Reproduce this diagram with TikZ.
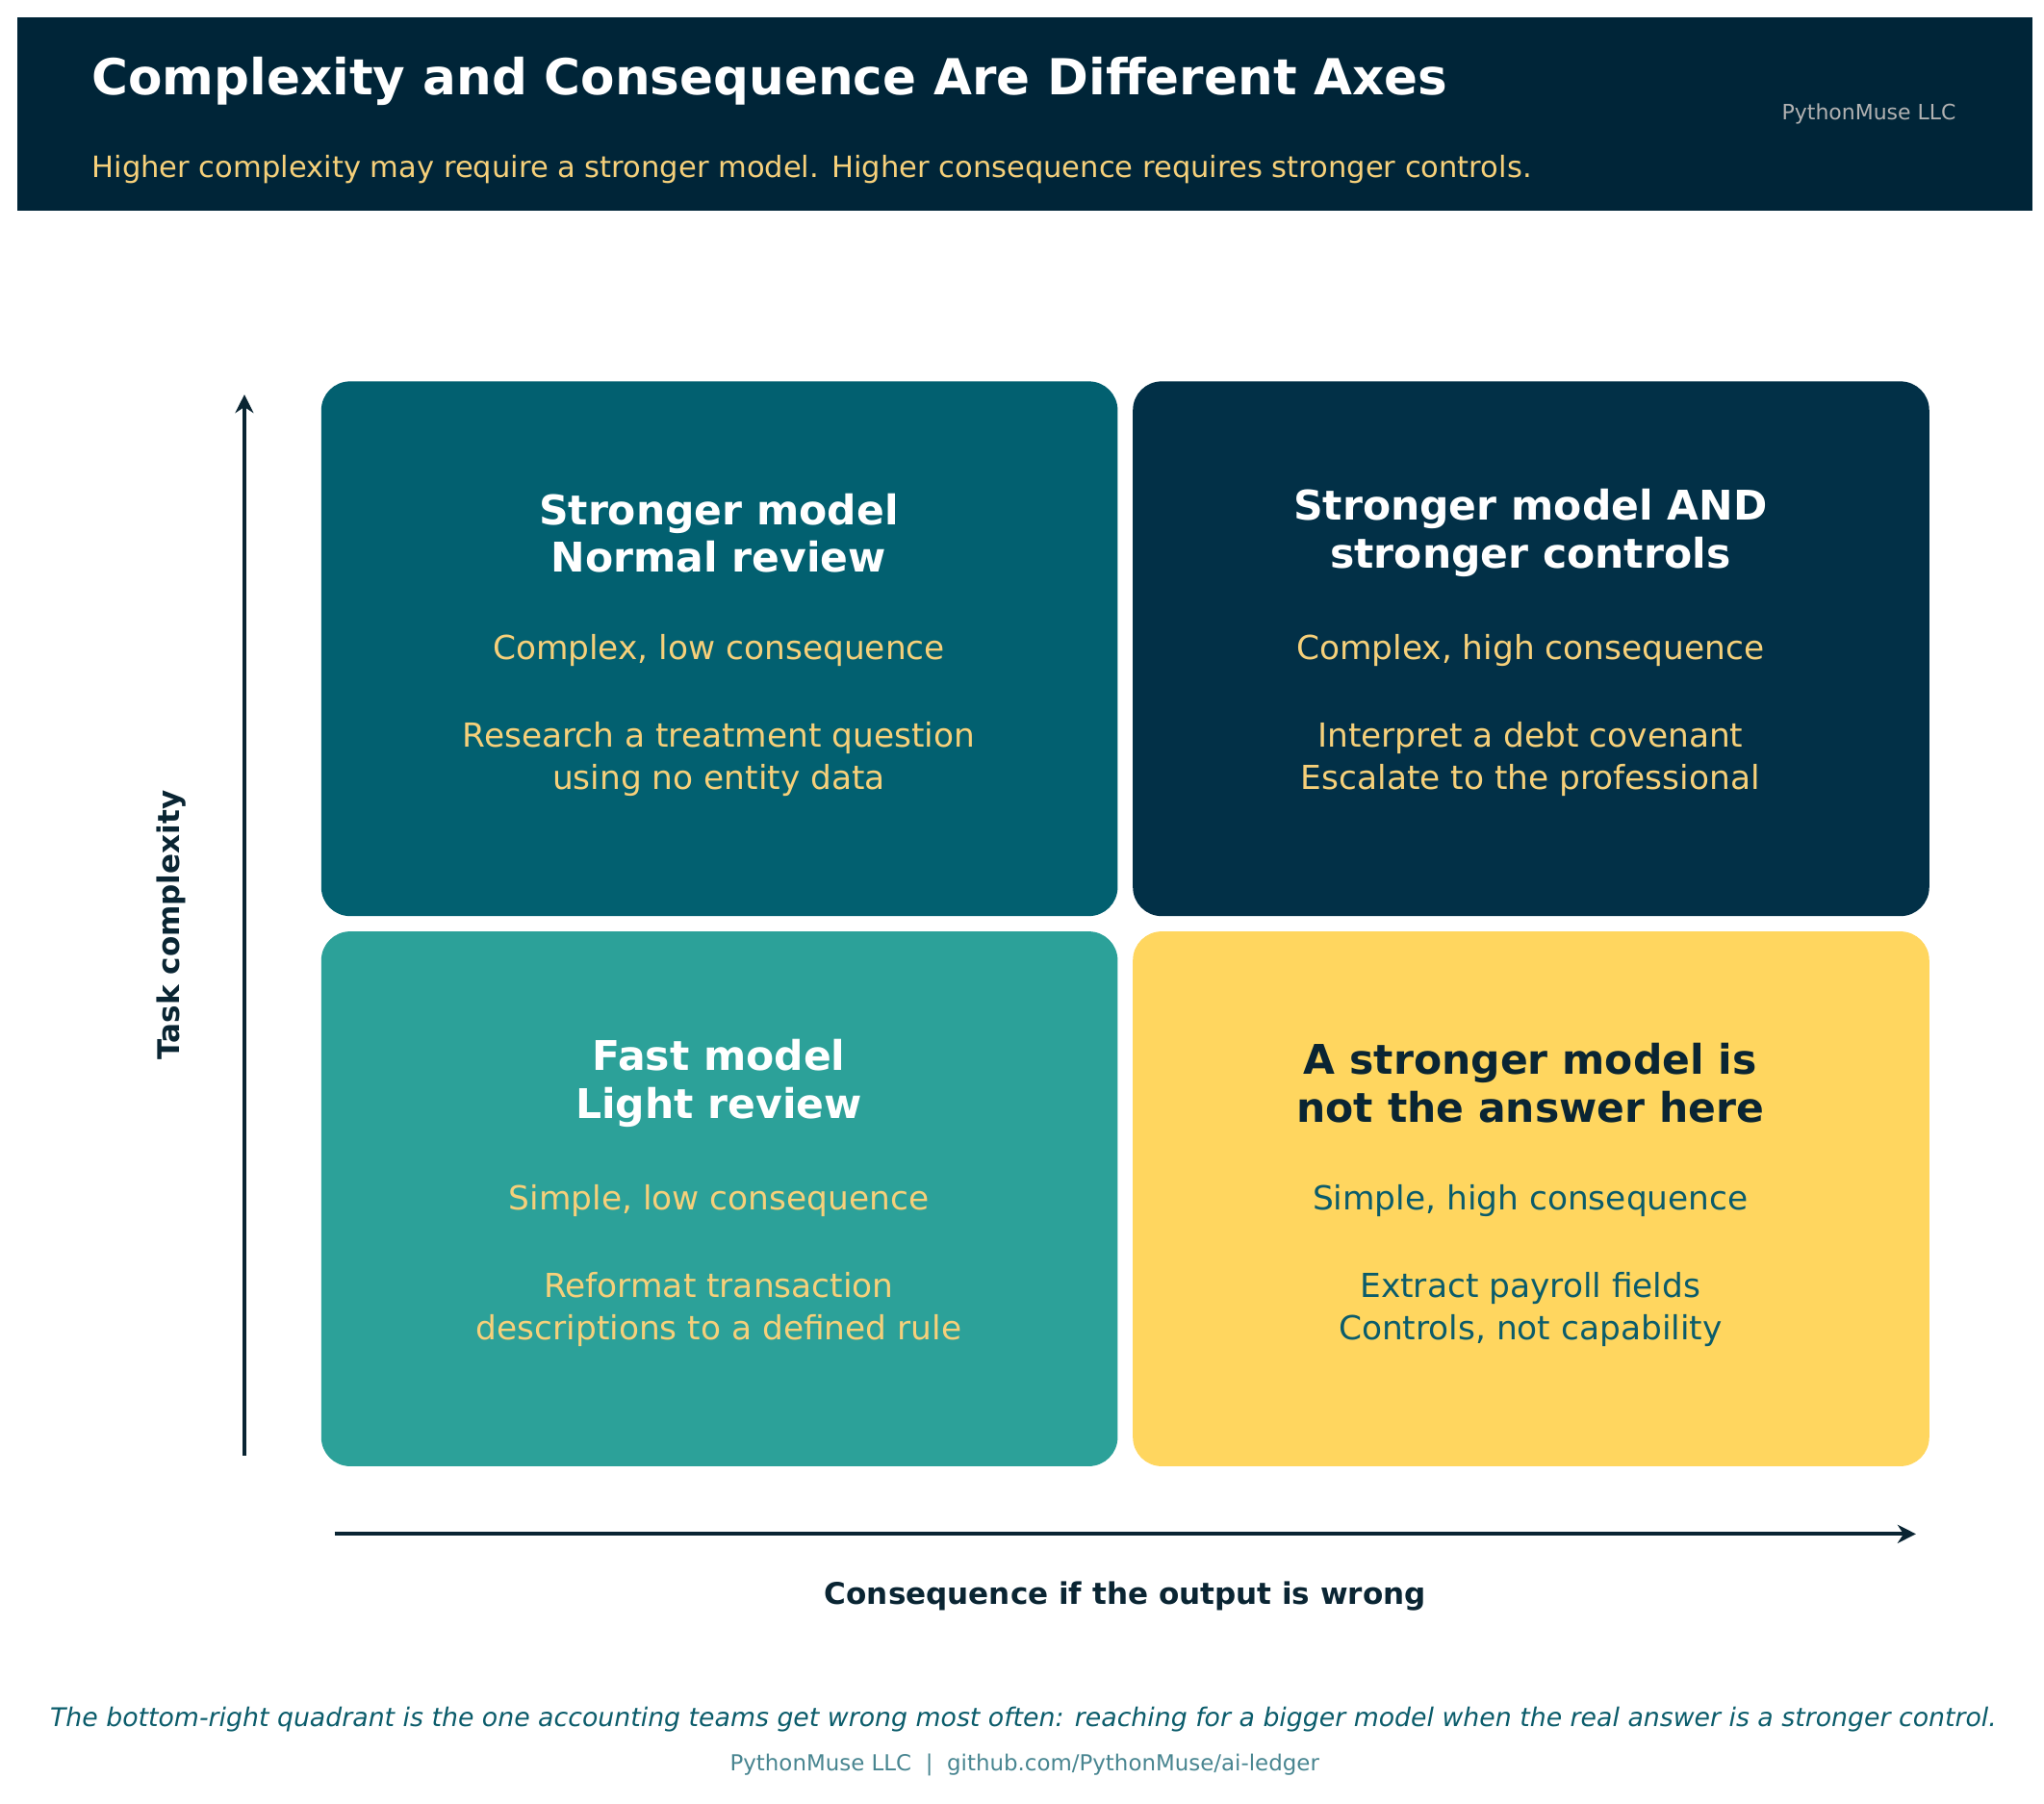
\documentclass[tikz,border=0pt]{standalone}
\usepackage{fontspec}
\setmainfont{DejaVu Sans}
\usetikzlibrary{arrows.meta, positioning}
\definecolor{navy}{HTML}{002538}
\definecolor{darkq}{HTML}{023047}
\definecolor{tealq}{HTML}{026070}
\definecolor{greenq}{HTML}{2CA199}
\definecolor{yellowq}{HTML}{FFD65F}
\definecolor{sand}{HTML}{F6D07A}
\definecolor{deepteal}{HTML}{0B5C6B}
\definecolor{inkq}{HTML}{0A2533}
\tikzset{
  quad/.style={rounded corners=0.22cm, minimum width=6.09cm, minimum height=4.09cm, inner sep=0pt, draw=none},
  qtitle/.style={align=center, font=\fontsize{8.9}{10.4}\selectfont\bfseries, text=white},
  qbody/.style={align=center, font=\fontsize{7.2}{9.2}\selectfont, text=sand},
  axis/.style={draw=inkq, line width=0.85pt, -{Stealth[length=4pt,width=4pt]}},
  axlabel/.style={font=\fontsize{6.5}{8}\selectfont\bfseries, text=inkq}
}
\begin{document}
\begin{tikzpicture}[x=0.01cm, y=-0.01cm]
\useasboundingbox (0,0) rectangle (1564,1380);

% header band
\fill[navy] (13,13) rectangle (1555,161);
\node[anchor=west, text=white, font=\fontsize{10.8}{12}\selectfont\bfseries] (title) at (58,62) {Complexity and Consequence Are Different Axes};
\node[anchor=west, text=sand, font=\fontsize{6.4}{8}\selectfont] (subtitle) at (58,130) {Higher complexity may require a stronger model. Higher consequence requires stronger controls.};
\node[anchor=east, text=gray!60, font=\fontsize{4.6}{6}\selectfont] (brand) at (1509,87) {PythonMuse LLC};

% quadrants
\node[quad, fill=tealq] (tl) at (550.5,496.5) {};
\node[quad, fill=darkq] (tr) at (1171.5,496.5) {};
\node[quad, fill=greenq] (bl) at (550.5,917.5) {};
\node[quad, fill=yellowq] (br) at (1171.5,917.5) {};

\node[qtitle] (tlt) at (550,408) {Stronger model\\Normal review};
\node[qbody] (tls) at (550,498) {Complex, low consequence};
\node[qbody] (tlb) at (550,581) {Research a treatment question\\using no entity data};

\node[qtitle] (trt) at (1171,408) {Stronger model AND\\stronger controls};
\node[qbody] (trs) at (1171,498) {Complex, high consequence};
\node[qbody] (trb) at (1171,581) {Interpret a debt covenant\\Escalate to the professional};

\node[qtitle] (blt) at (550,829) {Fast model\\Light review};
\node[qbody] (bls) at (550,919) {Simple, low consequence};
\node[qbody] (blb) at (550,1002) {Reformat transaction\\descriptions to a defined rule};

\node[qtitle, text=inkq] (brt) at (1171,829) {A stronger model is\\not the answer here};
\node[qbody, text=deepteal] (brs) at (1171,919) {Simple, high consequence};
\node[qbody, text=deepteal] (brb) at (1171,1002) {Extract payroll fields\\Controls, not capability};

% axes
\coordinate (ylow) at (187,1114);
\coordinate (yhigh) at (187,302);
\coordinate (xlow) at (256,1174);
\coordinate (xhigh) at (1466,1174);
\draw[axis] (ylow) -- (yhigh);
\draw[axis] (xlow) -- (xhigh);
\node[axlabel, rotate=90] (ylabel) at (131,708) {Task complexity};
\node[axlabel] (xlabel) at (861,1222) {Consequence if the output is wrong};

% footer
\node[text=deepteal, font=\fontsize{5.6}{7}\selectfont\itshape] (note) at (783,1316) {The bottom-right quadrant is the one accounting teams get wrong most often: reaching for a bigger model when the real answer is a stronger control.};
\node[text=deepteal!75, font=\fontsize{4.8}{6}\selectfont] (credit) at (784,1351) {PythonMuse LLC \ | \ github.com/PythonMuse/ai-ledger};
\end{tikzpicture}
\end{document}
